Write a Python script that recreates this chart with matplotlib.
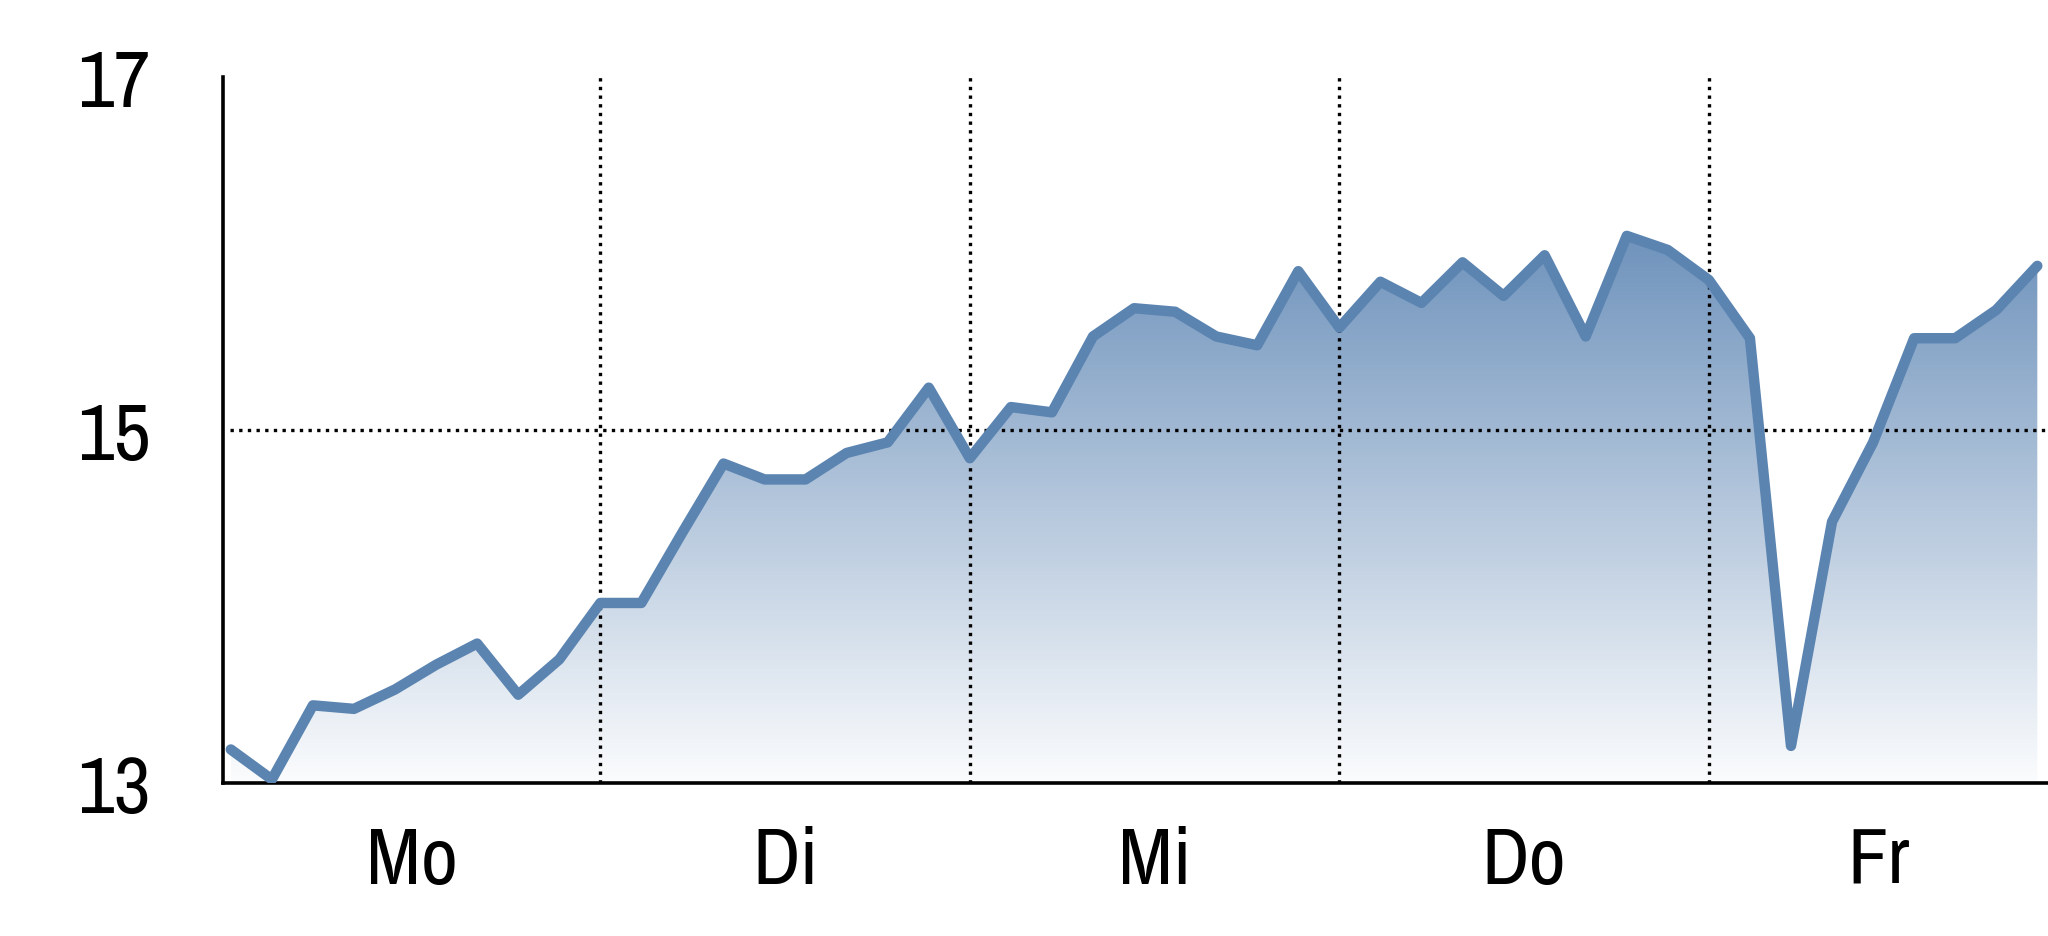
import numpy as np
import matplotlib
matplotlib.use('Agg')
import matplotlib.pyplot as plt
from matplotlib.colors import LinearSegmentedColormap

# weekday labels and one reading every ~ninth of a day
days = ['Mo', 'Di', 'Mi', 'Do', 'Fr']
values = [13.19, 13.02, 13.44, 13.42, 13.53, 13.67, 13.79, 13.50, 13.70,
          14.02, 14.02, 14.42, 14.81, 14.72, 14.72, 14.87, 14.93, 15.24,
          14.84, 15.13, 15.10, 15.53, 15.69, 15.67, 15.53, 15.48, 15.90,
          15.58, 15.84, 15.72, 15.95, 15.76, 15.99, 15.53, 16.10, 16.02,
          15.85, 15.52, 13.21, 14.48, 14.93, 15.52, 15.52, 15.68, 15.93]
y_ticks = [13, 15, 17]
per_day = 9

line_color = '#5b84b1'
# narrow face, the labels in the original look squeezed
plt.rcParams['font.family'] = ['Archivo Narrow', 'Liberation Sans', 'DejaVu Sans']

x = np.arange(len(values))
y = np.array(values)
x_left, x_right = -0.19, 44.26

fig = plt.figure(figsize=(20.48, 9.37), dpi=100)
ax = fig.add_axes([223 / 2048, 153 / 937, 1 - 223 / 2048, 706 / 937])

# gradient fill under the line, clipped to the area polygon
poly = ax.fill_between(x, y, 13, facecolor='none', edgecolor='none')
cmap = LinearSegmentedColormap.from_list('fade', ['#fbfcfd', '#6f93bc'])
grad = np.linspace(0, 1, 256).reshape(-1, 1)
img = ax.imshow(grad, cmap=cmap, aspect='auto', origin='lower',
                extent=[x[0], x[-1], 13, y.max()], zorder=1)
img.set_clip_path(poly.get_paths()[0], transform=ax.transData)

ax.plot(x, y, color=line_color, lw=7.5, solid_joinstyle='round',
        solid_capstyle='round', zorder=3)

ax.set_xlim(x_left, x_right)
ax.set_ylim(13, 17)

# day labels centred on the visible part of each day, dotted day borders
borders = [per_day * k for k in range(1, len(days))]
edges = [x_left] + borders + [x_right]
ax.set_xticks([(edges[k] + edges[k + 1]) / 2 for k in range(len(days))])
ax.set_xticklabels(days)
ax.set_xticks(borders, minor=True)
ax.set_yticks(y_ticks)
ax.set_yticklabels([str(t) for t in y_ticks])
dots = (0, (1, 1.6))
ax.grid(which='minor', axis='x', color='black', linestyle=dots, lw=2.4, zorder=2)
ax.axhline(15, xmin=0.004, color='black', linestyle=dots, lw=2.4, zorder=2)

ax.tick_params(axis='both', which='both', length=0, labelsize=58)
ax.tick_params(axis='x', pad=30)
ax.tick_params(axis='y', pad=52)

for s in ['top', 'right']:
    ax.spines[s].set_visible(False)
for s in ['left', 'bottom']:
    ax.spines[s].set_linewidth(2.6)
ax.set_facecolor('white')

plt.savefig('out.png', dpi=100, facecolor='white')
plt.close()
